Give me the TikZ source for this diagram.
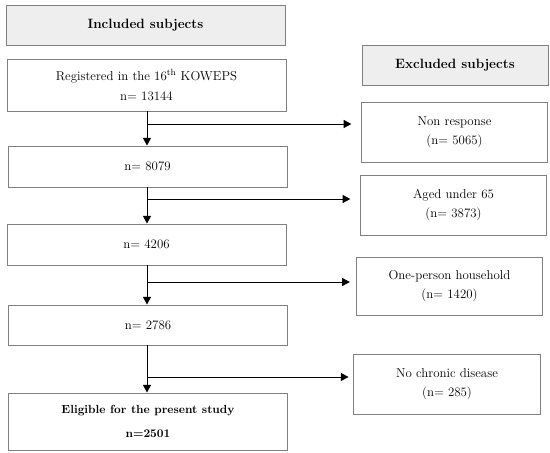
\documentclass[tikz,border=0pt]{standalone}
\usepackage{xcolor}
\usepackage{tikz}
\usetikzlibrary{arrows.meta,positioning,calc}
\definecolor{boxline}{HTML}{808080}
\definecolor{headfill}{HTML}{EEEEEE}
\newcommand{\boxfont}{\fontsize{11}{13.5}\selectfont}
\tikzset{
  headbox/.style={
    rectangle, draw=boxline, fill=headfill, line width=0.8pt,
    minimum width=#1, minimum height=1.2cm,
    font=\fontsize{11.5}{14}\selectfont\bfseries, align=center, inner sep=2pt
  },
  headbox/.default=8.37cm,
  stepbox/.style={
    rectangle, draw=boxline, fill=white, line width=0.8pt,
    minimum width=8.37cm, minimum height=#1,
    font=\boxfont, align=center, inner sep=2pt
  },
  stepbox/.default=1.23cm,
  exbox/.style={
    rectangle, draw=boxline, fill=white, line width=0.8pt,
    minimum width=5.6cm, minimum height=1.8cm,
    font=\boxfont, align=center, inner sep=2pt
  },
  flowarrow/.style={
    -{Triangle[length=2.3mm, width=2.4mm]}, line width=0.85pt, color=black
  },
}

\begin{document}
\begin{tikzpicture}[x=0.03cm, y=-0.03cm]
  \useasboundingbox (0,0) rectangle (550,453);

  % headers
  \node[headbox] (inc) at (145.5,25) {Included\ subjects};
  \node[headbox=5.58cm] (exc) at (455,65) {Excluded\ subjects};

  % left column
  \node[stepbox=1.56cm] (reg) at (146.5,85)
    {Registered in the 16\textsuperscript{th} KOWEPS\\[4pt] n= 13144};
  \node[stepbox] (n1) at (147.5,166.5) {n= 8079};
  \node[stepbox] (n2) at (146.5,244.5) {n= 4206};
  \node[stepbox=1.2cm] (n3) at (148,325) {n= 2786};
  \node[stepbox=1.71cm, font=\normalsize\bfseries] (elig) at (148,421.5)
    {Eligible for the present study\\[8pt] n=2501};

  % right column
  \node[exbox] (ex1) at (454.5,132) {Non response\\[3pt] (n= 5065)};
  \node[exbox] (ex2) at (453.5,205) {Aged under 65\\[3pt] (n= 3873)};
  \node[exbox, minimum height=1.74cm] (ex3) at (449.5,286)
    {One-person household\\[3pt] (n= 1420)};
  \node[exbox] (ex4) at (447,384) {No chronic disease\\[3pt] (n= 285)};

  % branch points
  \coordinate (b1) at (147,124);
  \coordinate (b2) at (147,199);
  \coordinate (b3) at (147,282);
  \coordinate (b4) at (147,377);

  % main flow
  \draw[flowarrow] (b1 |- reg.south) -- (b1 |- n1.north);
  \draw[flowarrow] (b2 |- n1.south) -- (b2 |- n2.north);
  \draw[flowarrow] (b3 |- n2.south) -- (b3 |- n3.north);
  \draw[flowarrow] (b4 |- n3.south) -- (b4 |- elig.north);

  % exclusions
  \draw[flowarrow, shorten >=8] (b1) -- (b1 -| ex1.west);
  \draw[flowarrow, shorten >=8] (b2) -- (b2 -| ex2.west);
  \draw[flowarrow, shorten >=5] (b3) -- (b3 -| ex3.west);
  \draw[flowarrow, shorten >=4] (b4) -- (b4 -| ex4.west);
\end{tikzpicture}
\end{document}
